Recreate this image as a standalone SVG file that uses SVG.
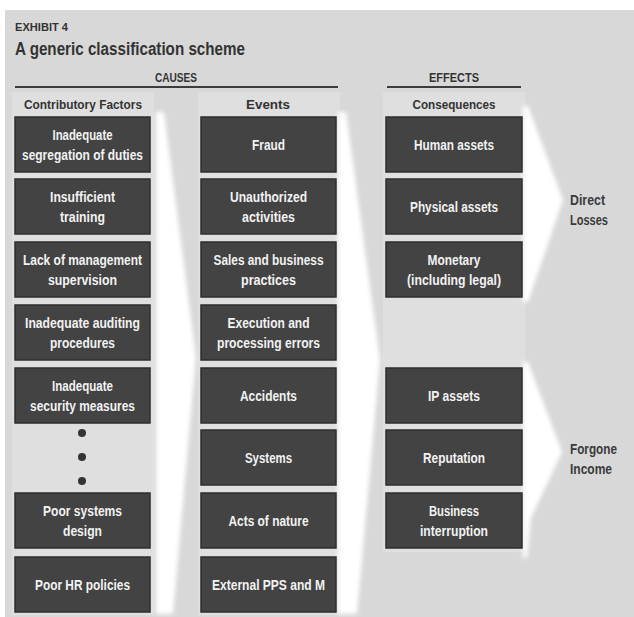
<svg xmlns="http://www.w3.org/2000/svg" width="634" height="617" viewBox="0 0 634 617">
<defs>
<style>
.panel{fill:#d8d8d8}
.strip{fill:#dfdfdf}
.box{fill:#434343;stroke:#2e2e2e;stroke-width:1.5}
.bt{font-family:"Liberation Sans Narrow","Liberation Sans",Arial,sans-serif;font-weight:bold;font-size:14px;fill:#f2f2f2;text-anchor:middle}
.hd{font-family:"Liberation Sans Narrow","Liberation Sans",Arial,sans-serif;font-weight:bold;fill:#333333}
.lbl{font-family:"Liberation Sans Narrow","Liberation Sans",Arial,sans-serif;font-weight:bold;font-size:14px;fill:#3a3a3a}
.rule{stroke:#3c3c3c;stroke-width:2}
.band{fill:#ffffff;filter:url(#soft)}
.dot{fill:#333333}
</style>
<filter id="soft" x="-50%" y="-10%" width="200%" height="120%"><feGaussianBlur stdDeviation="2"/></filter>
</defs>
<rect x="0" y="0" width="634" height="617" fill="#ffffff"/>
<rect class="panel" x="5" y="10" width="629" height="607"/>
<g id="header">
<text class="hd" x="15" y="31" font-size="11" textLength="53" lengthAdjust="spacingAndGlyphs">EXHIBIT 4</text>
<text class="hd" x="15" y="55" font-size="18" fill="#222" textLength="230" lengthAdjust="spacingAndGlyphs">A generic classification scheme</text>
<text class="hd" x="176" y="82" font-size="12" text-anchor="middle" textLength="42" lengthAdjust="spacingAndGlyphs">CAUSES</text>
<text class="hd" x="454" y="82" font-size="12" text-anchor="middle" textLength="50" lengthAdjust="spacingAndGlyphs">EFFECTS</text>
<line class="rule" x1="15" y1="87" x2="338" y2="87"/>
<line class="rule" x1="387" y1="87" x2="521" y2="87"/>
</g>
<rect class="strip" x="12" y="92" width="142" height="523"/>
<rect class="strip" x="198" y="92" width="142" height="523"/>
<rect class="strip" x="383" y="92" width="142" height="460"/>
<g id="column-heads">
<text class="hd" x="83" y="109" font-size="13" text-anchor="middle" textLength="118" lengthAdjust="spacingAndGlyphs">Contributory Factors</text>
<text class="hd" x="268" y="109" font-size="13" text-anchor="middle" textLength="44" lengthAdjust="spacingAndGlyphs">Events</text>
<text class="hd" x="454" y="109" font-size="13" text-anchor="middle" textLength="83" lengthAdjust="spacingAndGlyphs">Consequences</text>
</g>
<g id="connectors">
<path class="band" d="M156,112 L164,112 L196,357 L173,614 L156,614 Z"/>
<path class="band" d="M338,112 L346,112 L380,360 L357,614 L338,614 Z"/>
<path class="band" d="M523,106 L528,106 L563,200 L528,302 L523,302 Z"/>
<path class="band" d="M523,362 L528,362 L562,452 L531,518 L527,558 L523,558 Z"/>
</g>
<g id="cf1"><rect class="box" x="15" y="117" width="135" height="55"/><text class="bt" x="82.5" y="139.5" textLength="60" lengthAdjust="spacingAndGlyphs">Inadequate</text><text class="bt" x="82.5" y="159.5" textLength="121" lengthAdjust="spacingAndGlyphs">segregation of duties</text></g>
<g id="cf2"><rect class="box" x="15" y="179" width="135" height="55"/><text class="bt" x="82.5" y="201.5" textLength="65" lengthAdjust="spacingAndGlyphs">Insufficient</text><text class="bt" x="82.5" y="221.5" textLength="45" lengthAdjust="spacingAndGlyphs">training</text></g>
<g id="cf3"><rect class="box" x="15" y="242" width="135" height="55"/><text class="bt" x="82.5" y="264.5" textLength="119" lengthAdjust="spacingAndGlyphs">Lack of management</text><text class="bt" x="82.5" y="284.5" textLength="69" lengthAdjust="spacingAndGlyphs">supervision</text></g>
<g id="cf4"><rect class="box" x="15" y="305" width="135" height="55"/><text class="bt" x="82.5" y="327.5" textLength="115" lengthAdjust="spacingAndGlyphs">Inadequate auditing</text><text class="bt" x="82.5" y="347.5" textLength="65" lengthAdjust="spacingAndGlyphs">procedures</text></g>
<g id="cf5"><rect class="box" x="15" y="368" width="135" height="55"/><text class="bt" x="82.5" y="390.5" textLength="61" lengthAdjust="spacingAndGlyphs">Inadequate</text><text class="bt" x="82.5" y="410.5" textLength="105" lengthAdjust="spacingAndGlyphs">security measures</text></g>
<g id="dots"><circle class="dot" cx="82" cy="433" r="4"/><circle class="dot" cx="82" cy="457" r="4"/><circle class="dot" cx="82" cy="481" r="4"/></g>
<g id="cf6"><rect class="box" x="15" y="493" width="135" height="55"/><text class="bt" x="82.5" y="515.5" textLength="79" lengthAdjust="spacingAndGlyphs">Poor systems</text><text class="bt" x="82.5" y="535.5" textLength="39" lengthAdjust="spacingAndGlyphs">design</text></g>
<g id="cf7"><rect class="box" x="15" y="557" width="135" height="55"/><text class="bt" x="82.5" y="589.5" textLength="95" lengthAdjust="spacingAndGlyphs">Poor HR policies</text></g>
<g id="ev1"><rect class="box" x="201" y="117" width="135" height="55"/><text class="bt" x="268.5" y="149.5" textLength="33" lengthAdjust="spacingAndGlyphs">Fraud</text></g>
<g id="ev2"><rect class="box" x="201" y="179" width="135" height="55"/><text class="bt" x="268.5" y="201.5" textLength="77" lengthAdjust="spacingAndGlyphs">Unauthorized</text><text class="bt" x="268.5" y="221.5" textLength="53" lengthAdjust="spacingAndGlyphs">activities</text></g>
<g id="ev3"><rect class="box" x="201" y="242" width="135" height="55"/><text class="bt" x="268.5" y="264.5" textLength="110" lengthAdjust="spacingAndGlyphs">Sales and business</text><text class="bt" x="268.5" y="284.5" textLength="55" lengthAdjust="spacingAndGlyphs">practices</text></g>
<g id="ev4"><rect class="box" x="201" y="305" width="135" height="55"/><text class="bt" x="268.5" y="327.5" textLength="82" lengthAdjust="spacingAndGlyphs">Execution and</text><text class="bt" x="268.5" y="347.5" textLength="103" lengthAdjust="spacingAndGlyphs">processing errors</text></g>
<g id="ev5"><rect class="box" x="201" y="368" width="135" height="55"/><text class="bt" x="268.5" y="400.5" textLength="57" lengthAdjust="spacingAndGlyphs">Accidents</text></g>
<g id="ev6"><rect class="box" x="201" y="430" width="135" height="55"/><text class="bt" x="268.5" y="462.5" textLength="47" lengthAdjust="spacingAndGlyphs">Systems</text></g>
<g id="ev7"><rect class="box" x="201" y="493" width="135" height="55"/><text class="bt" x="268.5" y="525.5" textLength="80" lengthAdjust="spacingAndGlyphs">Acts of nature</text></g>
<g id="ev8"><rect class="box" x="201" y="557" width="135" height="55"/><text class="bt" x="268.5" y="589.5" textLength="113" lengthAdjust="spacingAndGlyphs">External PPS and M</text></g>
<g id="co1"><rect class="box" x="386" y="117" width="136" height="55"/><text class="bt" x="454" y="149.5" textLength="80" lengthAdjust="spacingAndGlyphs">Human assets</text></g>
<g id="co2"><rect class="box" x="386" y="179" width="136" height="55"/><text class="bt" x="454" y="211.5" textLength="88" lengthAdjust="spacingAndGlyphs">Physical assets</text></g>
<g id="co3"><rect class="box" x="386" y="242" width="136" height="55"/><text class="bt" x="454" y="264.5" textLength="53" lengthAdjust="spacingAndGlyphs">Monetary</text><text class="bt" x="454" y="284.5" textLength="94" lengthAdjust="spacingAndGlyphs">(including legal)</text></g>
<g id="co4"><rect class="box" x="386" y="368" width="136" height="55"/><text class="bt" x="454" y="400.5" textLength="52" lengthAdjust="spacingAndGlyphs">IP assets</text></g>
<g id="co5"><rect class="box" x="386" y="430" width="136" height="55"/><text class="bt" x="454" y="462.5" textLength="62" lengthAdjust="spacingAndGlyphs">Reputation</text></g>
<g id="co6"><rect class="box" x="386" y="493" width="136" height="55"/><text class="bt" x="454" y="515.5" textLength="50" lengthAdjust="spacingAndGlyphs">Business</text><text class="bt" x="454" y="535.5" textLength="68" lengthAdjust="spacingAndGlyphs">interruption</text></g>
<g id="direct-losses"><text class="lbl" x="570" y="205" textLength="35" lengthAdjust="spacingAndGlyphs">Direct</text><text class="lbl" x="570" y="225" textLength="38" lengthAdjust="spacingAndGlyphs">Losses</text></g>
<g id="forgone-income"><text class="lbl" x="570" y="454" textLength="47" lengthAdjust="spacingAndGlyphs">Forgone</text><text class="lbl" x="570" y="474" textLength="42" lengthAdjust="spacingAndGlyphs">Income</text></g>
</svg>
